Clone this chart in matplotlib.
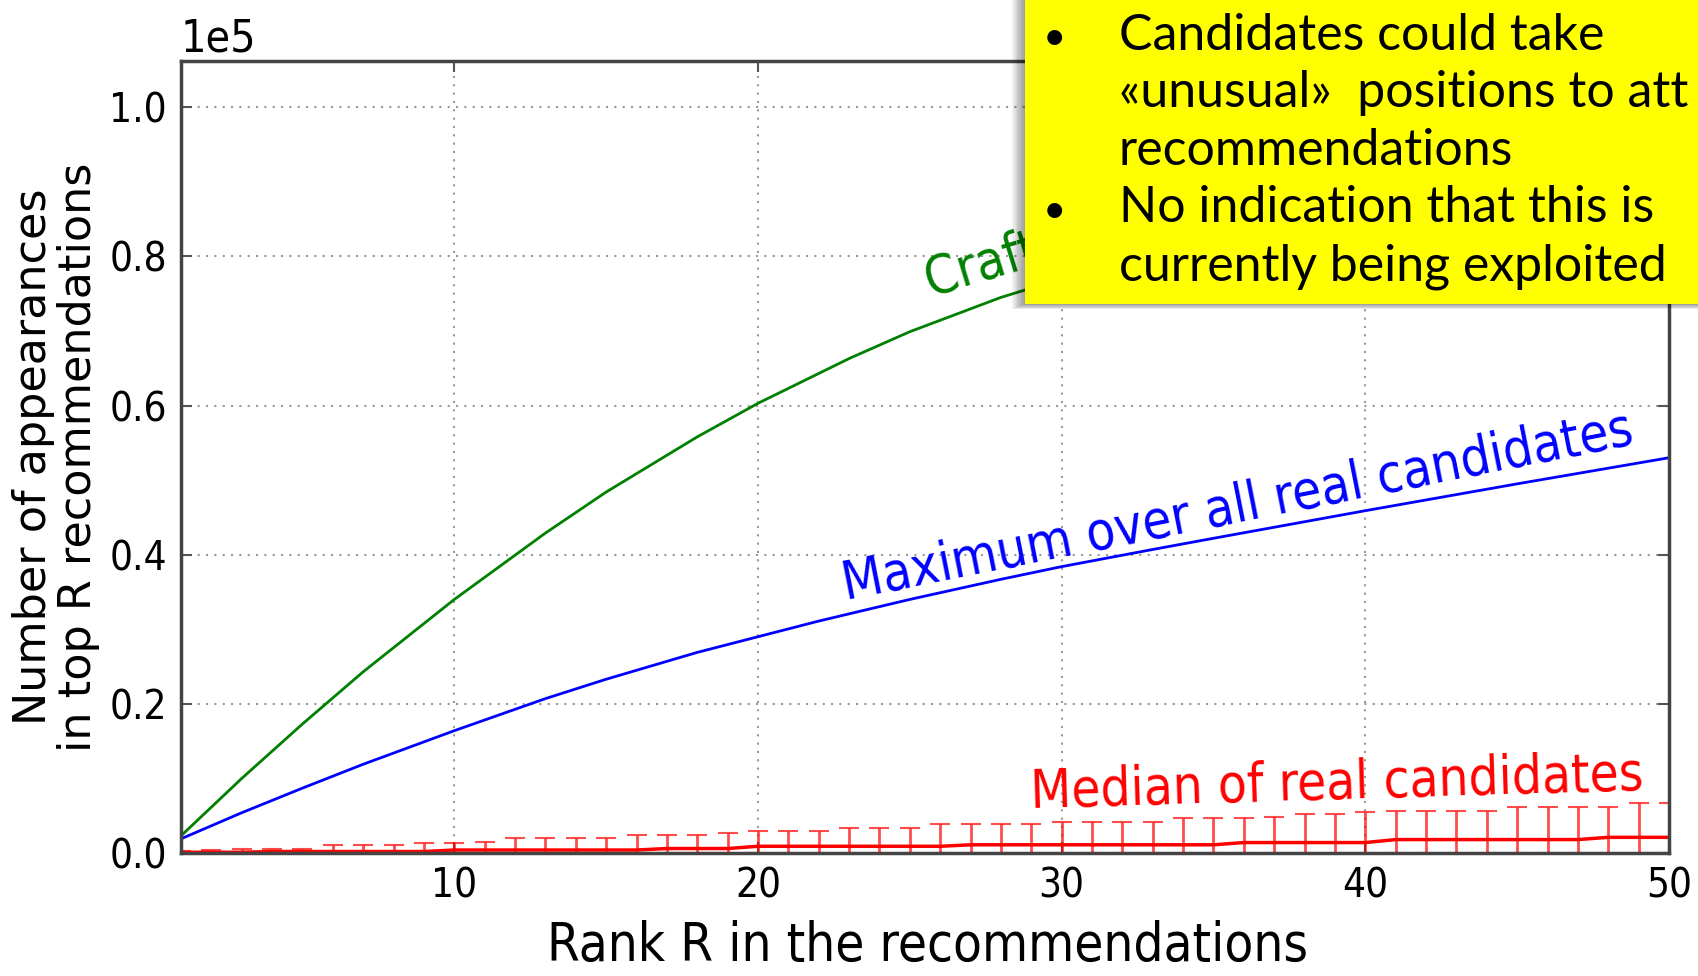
import numpy as np
import matplotlib.pyplot as plt
from matplotlib import font_manager
from matplotlib.patches import Rectangle

# values (counts, axis shows them as x 1e5)
rank_green = [1, 3, 5, 7, 10, 13, 15, 18, 20, 23, 25, 28, 30, 35, 40, 45, 50]
crafted = [2300, 10000, 17300, 24300, 34000, 42900, 48400, 55800, 60300, 66300,
           69900, 74500, 77000, 85000, 91000, 96000, 101000]

rank_blue = [1, 3, 5, 7, 10, 13, 15, 18, 20, 22, 25, 28, 30, 33, 35, 40, 45, 50]
max_real = [1900, 5400, 8700, 11900, 16400, 20700, 23300, 26900, 29000, 31100,
            34000, 36700, 38400, 40700, 42200, 45900, 49500, 53000]

rank = list(range(1, 51))
median_real = [100, 100, 100, 200, 200, 200, 200, 200, 200, 400,
               400, 400, 400, 400, 400, 400, 600, 600, 600, 900,
               900, 900, 900, 900, 900, 900, 1100, 1100, 1100, 1100,
               1100, 1100, 1100, 1100, 1100, 1400, 1400, 1400, 1400, 1400,
               1800, 1800, 1800, 1800, 1800, 1800, 1800, 2100, 2100, 2100]
upper_real = [300, 400, 500, 500, 600, 1100, 1100, 1100, 1400, 1400,
              1500, 2000, 2000, 2000, 2000, 2400, 2400, 2400, 2700, 2900,
              2900, 2900, 3300, 3300, 3300, 3900, 3900, 3900, 3900, 4200,
              4200, 4200, 4200, 4700, 4700, 4700, 4800, 5200, 5200, 5500,
              5600, 5600, 5600, 5600, 6200, 6200, 6200, 6200, 6700, 6700]

xticks = [10, 20, 30, 40, 50]
yticks = [0, 20000, 40000, 60000, 80000, 100000]

box_lines = ["Candidates could take",
             "«unusual»  positions to att",
             "recommendations",
             "No indication that this is",
             "currently being exploited"]
bullet_rows = [0, 3]


def pick_condensed():
    # the picture is squeezed sideways, a condensed face gets closest
    for fam, st in [('DejaVu Sans Condensed', 'normal'), ('DejaVu Sans', 'condensed')]:
        try:
            p = font_manager.findfont(font_manager.FontProperties(family=fam, stretch=st),
                                      fallback_to_default=False)
            if 'Condensed' in p:
                return fam, st, True
        except ValueError:
            pass
    return 'DejaVu Sans', 'normal', False


cond_fam, cond_stretch, has_cond = pick_condensed()
plt.rcParams['font.family'] = [cond_fam, 'DejaVu Sans']
plt.rcParams['font.stretch'] = cond_stretch
tick_size = 29 if has_cond else 27
label_size = 38 if has_cond else 35

W, H = 1699, 976
fig = plt.figure(figsize=(W / 100, H / 100), dpi=100)
ax = fig.add_axes([181 / W, 1 - 853 / H, 1488 / W, 792 / H])

ax.plot(rank_green, crafted, color='g', lw=2)
ax.plot(rank_blue, max_real, color='b', lw=2)

med = np.array(median_real)
up = np.array(upper_real)
ax.errorbar(rank, med, yerr=[med, up - med], fmt='none', ecolor='red',
            elinewidth=2, capsize=7, capthick=1.5, alpha=0.7)
ax.plot(rank, med, color='red', lw=2.5)

ax.set_xlim(1, 50)
ax.set_ylim(0, 106200)
ax.set_xticks(xticks)
ax.set_yticks(yticks)
ax.ticklabel_format(axis='y', style='sci', scilimits=(0, 0))
ax.yaxis.get_offset_text().set_fontsize(32)
ax.yaxis.OFFSETTEXTPAD = 6.5

ax.grid(True, color='#999999', linestyle=(0, (1, 3)), lw=1.5)
ax.tick_params(direction='in', length=8, width=1.5, top=True, right=True,
               labelsize=tick_size, pad=10, color='#555555')
for s in ax.spines.values():
    s.set_color('#444444')
    s.set_linewidth(2.5)

ax.set_xlabel('Rank R in the recommendations', fontsize=label_size)
ax.xaxis.set_label_coords(0.5017, -0.085)
ax.set_ylabel('Number of appearances\nin top R recommendations', fontsize=32,
              family='DejaVu Sans', stretch='normal', linespacing=1.05)
ax.yaxis.set_label_coords(-0.0545, 0.5)

ax.text(25.7, 74500, 'Crafted candidate', color='g', fontsize=label_size,
        rotation=17, rotation_mode='anchor', ha='left', va='baseline')
ax.text(22.9, 33900, 'Maximum over all real candidates', color='b', fontsize=38,
        rotation=11.2, rotation_mode='anchor', ha='left', va='baseline')
ax.text(29.0, 6000, 'Median of real candidates', color='red', fontsize=label_size,
        rotation=1.7, rotation_mode='anchor', ha='left', va='baseline')

# yellow callout on top, with a soft shadow on its left
bx, by = 1025, 304
for i in range(1, 11):
    fig.add_artist(Rectangle(((bx - i * 1.3) / W, 1 - (by + i * 0.5) / H),
                             (W - bx + 20) / W, (by + 20) / H,
                             transform=fig.transFigure, facecolor='black',
                             edgecolor='none', alpha=0.045, zorder=9))
fig.add_artist(Rectangle((bx / W, 1 - by / H), (W - bx + 20) / W, (by + 20) / H,
                         transform=fig.transFigure, facecolor='#ffff00',
                         edgecolor='none', zorder=10))

for i, line in enumerate(box_lines):
    yb = 1 - (50 + 57.5 * i) / H
    fig.text(1119 / W, yb, line, fontsize=36, family=['Lato', 'DejaVu Sans'],
             stretch='normal', ha='left', va='baseline', zorder=11)
    if i in bullet_rows:
        fig.text(1054 / W, yb, '•', fontsize=29, family=['Lato', 'DejaVu Sans'],
                 stretch='normal', ha='center', va='baseline', zorder=11)

fig.savefig('out.png', dpi=100)
